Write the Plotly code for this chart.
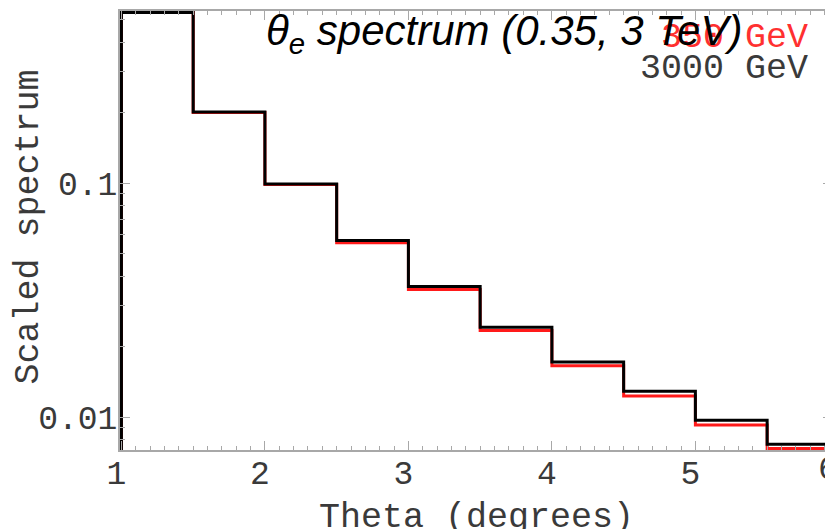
import plotly.graph_objects as go

# ---- data ----
bin_edges = [1.0, 1.5, 2.0, 2.5, 3.0, 3.5, 4.0, 4.5, 5.0, 5.5, 6.0]
spec_350 = [0.535, 0.200, 0.0985, 0.0555, 0.0351, 0.0234, 0.01656, 0.0123, 0.00925, 0.00733]
spec_3000 = [0.535, 0.201, 0.0990, 0.0568, 0.0361, 0.0242, 0.0172, 0.0129, 0.00968, 0.00764]
series_names = ["350 GeV", "3000 GeV"]
series_colors = ["#ff1a1a", "#000000"]
y_tickvals = [0.01, 0.1]
y_ticktext = ["0.01", "0.1"]
x_tickvals = [1, 2, 3, 4, 5, 6]
baseline = 0.001
x_range = [0.99, 5.959]

MONO = "Liberation Mono"
SANS = "Liberation Sans"

fig = go.Figure()
for vals, name, col in zip([spec_350, spec_3000], series_names, series_colors):
    xs = [bin_edges[0]] + bin_edges
    ys = [baseline] + vals + [vals[-1]]
    fig.add_trace(go.Scatter(x=xs, y=ys, mode="lines", line=dict(color=col, width=3, shape="hv"),
                             name=name, showlegend=False, hoverinfo="skip"))

axis_col = "#a8a8a8"
txt_col = "#3a3a3a"
# the page body adds an 8px offset, so the figure is 8px smaller than the window
fig.update_layout(
    width=825, height=521,
    margin=dict(l=112, r=0, t=3, b=79),
    paper_bgcolor="white", plot_bgcolor="white",
    font=dict(family=MONO, size=33, color=txt_col),
)
fig.update_xaxes(
    range=x_range, showgrid=False, zeroline=False, automargin=False,
    showline=True, linecolor=axis_col, linewidth=2, mirror="ticks",
    ticks="inside", ticklen=9, tickcolor=axis_col, tickwidth=1,
    tickvals=x_tickvals, ticklabelshift=-5, ticklabelstandoff=-8,
    minor=dict(ticks="inside", dtick=0.1, ticklen=4, tickcolor=axis_col, tickwidth=1, showgrid=False),
    tickfont=dict(family=MONO, size=33, color=txt_col),
)
fig.update_yaxes(
    type="log", range=[-2.141, -0.265], showgrid=False, zeroline=False, automargin=False,
    showline=True, linecolor=axis_col, linewidth=2, mirror="ticks",
    ticks="inside", ticklen=10, tickcolor=axis_col, tickwidth=1,
    tickvals=y_tickvals, ticktext=y_ticktext, ticklabelstandoff=-6,
    minor=dict(ticks="inside", dtick="D1", ticklen=5, tickcolor=axis_col, tickwidth=1, showgrid=False),
    tickfont=dict(family=MONO, size=33, color=txt_col),
)

# axis titles
fig.add_annotation(text="Theta (degrees)", xref="paper", yref="paper", x=0.5, y=0, yshift=-46,
                   xanchor="center", yanchor="top", showarrow=False,
                   font=dict(family=MONO, size=35, color=txt_col))
fig.add_annotation(text="Scaled spectrum", xref="paper", yref="paper", x=0, y=0.5, xshift=-92, yshift=3,
                   textangle=-90, xanchor="center", yanchor="middle", showarrow=False,
                   font=dict(family=MONO, size=35, color=txt_col))

# legend as coloured text
legend_y = [0.938, 0.868]
for name, col, ly in zip(series_names, ["#ff3030", txt_col], legend_y):
    fig.add_annotation(text=name, xref="paper", yref="paper", x=0.968, y=ly,
                       xanchor="right", yanchor="middle", showarrow=False,
                       font=dict(family=MONO, size=35, color=col))

# cut-off "6" tick label at the right edge (outside the visible x range)
six_paper = (x_tickvals[-1] - x_range[0]) / (x_range[1] - x_range[0])
fig.add_annotation(text="6", xref="paper", yref="paper", x=six_paper, y=0, yshift=0, xshift=-11,
                   xanchor="center", yanchor="top", showarrow=False,
                   font=dict(family=MONO, size=33, color=txt_col))

# title
fig.add_annotation(text="<i>θ<sub>e</sub> spectrum (0.35, 3 TeV)</i>", xref="paper", yref="paper",
                   x=0.539, y=1.0, yshift=6, xanchor="center", yanchor="top", showarrow=False,
                   font=dict(family=SANS, size=42, color="black"))

fig.write_html("out.html")
